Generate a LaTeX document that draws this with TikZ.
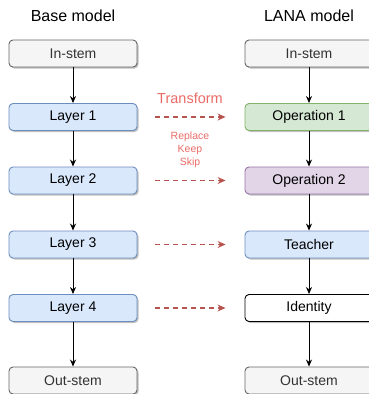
\documentclass[tikz,border=0pt]{standalone}
\usepackage{fontspec}
\setmainfont{Liberation Sans}
\usetikzlibrary{arrows.meta,shadows}
\definecolor{grayfill}{HTML}{F5F5F5}
\definecolor{graydraw}{HTML}{666666}
\definecolor{graytext}{HTML}{333333}
\definecolor{bluefill}{HTML}{DAE8FC}
\definecolor{bluedraw}{HTML}{6C8EBF}
\definecolor{greenfill}{HTML}{D5E8D4}
\definecolor{greendraw}{HTML}{82B366}
\definecolor{purplefill}{HTML}{E1D5E7}
\definecolor{purpledraw}{HTML}{9673A6}
\definecolor{redarrow}{HTML}{B85450}
\definecolor{redtext}{HTML}{EA6B66}
\tikzset{
  box/.style={draw, rounded corners=4pt, minimum width=128pt, minimum height=27pt,
    inner sep=0pt, font=\fontsize{14}{16}\selectfont, line width=0.9pt,
    drop shadow={shadow xshift=1.5pt, shadow yshift=-1.5pt, opacity=0.25, fill=black}},
  graybox/.style={box, fill=grayfill, draw=graydraw, text=graytext},
  bluebox/.style={box, fill=bluefill, draw=bluedraw},
  greenbox/.style={box, fill=greenfill, draw=greendraw},
  purplebox/.style={box, fill=purplefill, draw=purpledraw},
  whitebox/.style={box, fill=white, draw=black},
  title/.style={font=\fontsize{16}{18}\selectfont},
  flow/.style={-{Stealth[length=7pt,width=6pt]}, line width=0.9pt},
  transf/.style={-{Stealth[length=8pt,width=7pt]}, draw=redarrow, line width=1.2pt, dash pattern=on 5pt off 4pt},
  lbl/.style={text=redtext, inner sep=0pt},
}
\begin{document}
\begin{tikzpicture}[x=1pt,y=-1pt]
\useasboundingbox (0,0) rectangle (368,394);
% titles
\node[title] (tb) at (73,16) {Base model};
\node[title] (tl) at (309,16) {LANA model};
% left column
\node[graybox] (lin) at (73,53.5) {In-stem};
\node[bluebox] (l1) at (73,117) {Layer 1};
\node[bluebox] (l2) at (73,180.5) {Layer 2};
\node[bluebox] (l3) at (73,244.5) {Layer 3};
\node[bluebox] (l4) at (73,308) {Layer 4};
\node[graybox] (lout) at (73,380.5) {Out-stem};
% right column
\node[graybox] (rin) at (309,53.5) {In-stem};
\node[greenbox] (r1) at (309,117) {Operation 1};
\node[purplebox] (r2) at (309,180.5) {Operation 2};
\node[bluebox] (r3) at (309,244.5) {Teacher};
\node[whitebox] (r4) at (309,308) {Identity};
\node[graybox] (rout) at (309,380.5) {Out-stem};
% flow arrows
\foreach \a/\b in {lin/l1,l1/l2,l2/l3,l3/l4,l4/lout,rin/r1,r1/r2,r2/r3,r3/r4,r4/rout}
  \draw[flow] (\a) -- (\b);
% transform arrows
\foreach \a/\b in {l1/r1,l2/r2,l3/r3,l4/r4}
  \draw[transf] ([xshift=18pt]\a.east) -- ([xshift=-19pt]\b.west);
% labels
\node[lbl, font=\fontsize{14.5}{16}\selectfont] (tr) at (190,98) {Transform};
\node[lbl, font=\fontsize{10.5}{13}\selectfont, align=center] (rks) at (190,150) {Replace\\Keep\\Skip};
\end{tikzpicture}
\end{document}
